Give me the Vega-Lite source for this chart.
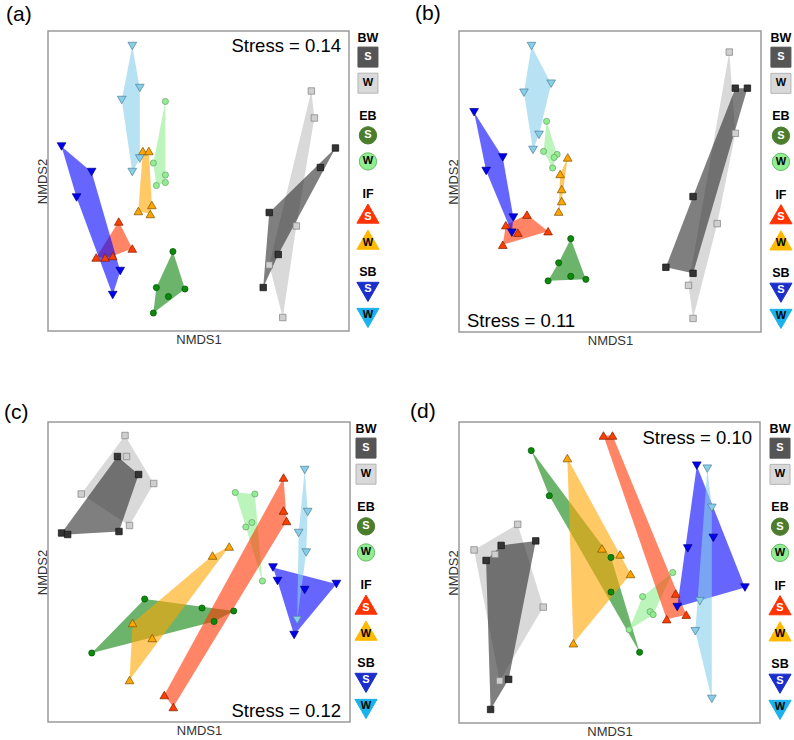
{
  "$schema": "https://vega.github.io/schema/vega-lite/v6.json",
  "padding": {"left": 3, "top": 2, "right": 0, "bottom": 0},
  "autosize": {"type": "pad"},
  "bounds": "flush",
  "columns": 2,
  "spacing": {"row": 90, "column": 109},
  "config": {
    "font": "Liberation Sans",
    "view": {"stroke": "#9a9a9a", "strokeWidth": 1.5},
    "legend": {"disable": true},
    "axis": {"labels": false, "ticks": false, "domain": false, "grid": false, "titleFont": "Liberation Sans", "titleFontSize": 13, "titleFontWeight": "normal", "titleColor": "#333333"},
    "title": {"font": "Liberation Sans", "fontSize": 21, "fontWeight": "normal", "anchor": "start", "frame": "group", "color": "#000000"}
  },
  "datasets": {
    "leg": [
      {"site": "BW", "k": "h", "id": "BW-h"}, {"site": "BW", "k": "S", "id": "BW-S"}, {"site": "BW", "k": "W", "id": "BW-W"},
      {"site": "EB", "k": "h", "id": "EB-h"}, {"site": "EB", "k": "S", "id": "EB-S"}, {"site": "EB", "k": "W", "id": "EB-W"},
      {"site": "IF", "k": "h", "id": "IF-h"}, {"site": "IF", "k": "S", "id": "IF-S"}, {"site": "IF", "k": "W", "id": "IF-W"},
      {"site": "SB", "k": "h", "id": "SB-h"}, {"site": "SB", "k": "S", "id": "SB-S"}, {"site": "SB", "k": "W", "id": "SB-W"}
    ],
    "pts": [
      {"p": "a", "site": "BW", "grp": "BW-W", "x": 0.75, "y": 0.60, "h": 1},
      {"p": "a", "site": "BW", "grp": "BW-W", "x": 0.77, "y": 0.42, "h": 2},
      {"p": "a", "site": "BW", "grp": "BW-W", "x": 0.65, "y": -0.30, "h": 3},
      {"p": "a", "site": "BW", "grp": "BW-W", "x": 0.47, "y": -0.56, "h": 5},
      {"p": "a", "site": "BW", "grp": "BW-W", "x": 0.56, "y": -0.91, "h": 4},
      {"p": "a", "site": "BW", "grp": "BW-S", "x": 0.91, "y": 0.22, "h": 1},
      {"p": "a", "site": "BW", "grp": "BW-S", "x": 0.81, "y": 0.09},
      {"p": "a", "site": "BW", "grp": "BW-S", "x": 0.47, "y": -0.21, "h": 4},
      {"p": "a", "site": "BW", "grp": "BW-S", "x": 0.53, "y": -0.49, "h": 2},
      {"p": "a", "site": "BW", "grp": "BW-S", "x": 0.43, "y": -0.71, "h": 3},
      {"p": "a", "site": "EB", "grp": "EB-S", "x": -0.17, "y": -0.47, "h": 1},
      {"p": "a", "site": "EB", "grp": "EB-S", "x": -0.28, "y": -0.71, "h": 4},
      {"p": "a", "site": "EB", "grp": "EB-S", "x": -0.09, "y": -0.72, "h": 2},
      {"p": "a", "site": "EB", "grp": "EB-S", "x": -0.20, "y": -0.77},
      {"p": "a", "site": "EB", "grp": "EB-S", "x": -0.30, "y": -0.88, "h": 3},
      {"p": "a", "site": "EB", "grp": "EB-W", "x": -0.22, "y": 0.53, "h": 1},
      {"p": "a", "site": "EB", "grp": "EB-W", "x": -0.30, "y": 0.12, "h": 5},
      {"p": "a", "site": "EB", "grp": "EB-W", "x": -0.22, "y": 0.04, "h": 2},
      {"p": "a", "site": "EB", "grp": "EB-W", "x": -0.22, "y": -0.01, "h": 3},
      {"p": "a", "site": "EB", "grp": "EB-W", "x": -0.28, "y": -0.03, "h": 4},
      {"p": "a", "site": "IF", "grp": "IF-S", "x": -0.53, "y": -0.27, "h": 1},
      {"p": "a", "site": "IF", "grp": "IF-S", "x": -0.44, "y": -0.45, "h": 2},
      {"p": "a", "site": "IF", "grp": "IF-S", "x": -0.68, "y": -0.51, "h": 5},
      {"p": "a", "site": "IF", "grp": "IF-S", "x": -0.62, "y": -0.51, "h": 4},
      {"p": "a", "site": "IF", "grp": "IF-S", "x": -0.57, "y": -0.50, "h": 3},
      {"p": "a", "site": "IF", "grp": "IF-W", "x": -0.37, "y": 0.20, "h": 1},
      {"p": "a", "site": "IF", "grp": "IF-W", "x": -0.33, "y": 0.20, "h": 2},
      {"p": "a", "site": "IF", "grp": "IF-W", "x": -0.40, "y": -0.20, "h": 5},
      {"p": "a", "site": "IF", "grp": "IF-W", "x": -0.31, "y": -0.16, "h": 3},
      {"p": "a", "site": "IF", "grp": "IF-W", "x": -0.32, "y": -0.22, "h": 4},
      {"p": "a", "site": "SB", "grp": "SB-S", "x": -0.91, "y": 0.23, "h": 1},
      {"p": "a", "site": "SB", "grp": "SB-S", "x": -0.71, "y": 0.06, "h": 2},
      {"p": "a", "site": "SB", "grp": "SB-S", "x": -0.81, "y": -0.11, "h": 5},
      {"p": "a", "site": "SB", "grp": "SB-S", "x": -0.52, "y": -0.60, "h": 3},
      {"p": "a", "site": "SB", "grp": "SB-S", "x": -0.57, "y": -0.76, "h": 4},
      {"p": "a", "site": "SB", "grp": "SB-W", "x": -0.44, "y": 0.90, "h": 1},
      {"p": "a", "site": "SB", "grp": "SB-W", "x": -0.39, "y": 0.62, "h": 2},
      {"p": "a", "site": "SB", "grp": "SB-W", "x": -0.51, "y": 0.54, "h": 5},
      {"p": "a", "site": "SB", "grp": "SB-W", "x": -0.39, "y": 0.15, "h": 3},
      {"p": "a", "site": "SB", "grp": "SB-W", "x": -0.44, "y": 0.06, "h": 4},

      {"p": "b", "site": "BW", "grp": "BW-W", "x": 0.79, "y": 0.86, "h": 1},
      {"p": "b", "site": "BW", "grp": "BW-W", "x": 0.83, "y": 0.32, "h": 2},
      {"p": "b", "site": "BW", "grp": "BW-W", "x": 0.71, "y": -0.28, "h": 3},
      {"p": "b", "site": "BW", "grp": "BW-W", "x": 0.52, "y": -0.69, "h": 5},
      {"p": "b", "site": "BW", "grp": "BW-W", "x": 0.55, "y": -0.91, "h": 4},
      {"p": "b", "site": "BW", "grp": "BW-S", "x": 0.83, "y": 0.62, "h": 1},
      {"p": "b", "site": "BW", "grp": "BW-S", "x": 0.91, "y": 0.62, "h": 2},
      {"p": "b", "site": "BW", "grp": "BW-S", "x": 0.55, "y": -0.10, "h": 5},
      {"p": "b", "site": "BW", "grp": "BW-S", "x": 0.37, "y": -0.57, "h": 4},
      {"p": "b", "site": "BW", "grp": "BW-S", "x": 0.55, "y": -0.61, "h": 3},
      {"p": "b", "site": "EB", "grp": "EB-S", "x": -0.26, "y": -0.38, "h": 1},
      {"p": "b", "site": "EB", "grp": "EB-S", "x": -0.34, "y": -0.54, "h": 4},
      {"p": "b", "site": "EB", "grp": "EB-S", "x": -0.26, "y": -0.63},
      {"p": "b", "site": "EB", "grp": "EB-S", "x": -0.16, "y": -0.65, "h": 2},
      {"p": "b", "site": "EB", "grp": "EB-S", "x": -0.41, "y": -0.66, "h": 3},
      {"p": "b", "site": "EB", "grp": "EB-W", "x": -0.42, "y": 0.40, "h": 1},
      {"p": "b", "site": "EB", "grp": "EB-W", "x": -0.44, "y": 0.20, "h": 4},
      {"p": "b", "site": "EB", "grp": "EB-W", "x": -0.35, "y": 0.18, "h": 2},
      {"p": "b", "site": "EB", "grp": "EB-W", "x": -0.37, "y": 0.16},
      {"p": "b", "site": "EB", "grp": "EB-W", "x": -0.38, "y": 0.09, "h": 3},
      {"p": "b", "site": "IF", "grp": "IF-S", "x": -0.55, "y": -0.22, "h": 1},
      {"p": "b", "site": "IF", "grp": "IF-S", "x": -0.69, "y": -0.29, "h": 4},
      {"p": "b", "site": "IF", "grp": "IF-S", "x": -0.61, "y": -0.34},
      {"p": "b", "site": "IF", "grp": "IF-S", "x": -0.41, "y": -0.33, "h": 2},
      {"p": "b", "site": "IF", "grp": "IF-S", "x": -0.71, "y": -0.42, "h": 3},
      {"p": "b", "site": "IF", "grp": "IF-W", "x": -0.28, "y": 0.16, "h": 1},
      {"p": "b", "site": "IF", "grp": "IF-W", "x": -0.33, "y": 0.05, "h": 4},
      {"p": "b", "site": "IF", "grp": "IF-W", "x": -0.32, "y": -0.05},
      {"p": "b", "site": "IF", "grp": "IF-W", "x": -0.32, "y": -0.13, "h": 2},
      {"p": "b", "site": "IF", "grp": "IF-W", "x": -0.34, "y": -0.20, "h": 3},
      {"p": "b", "site": "SB", "grp": "SB-S", "x": -0.90, "y": 0.46, "h": 1},
      {"p": "b", "site": "SB", "grp": "SB-S", "x": -0.71, "y": 0.16, "h": 2},
      {"p": "b", "site": "SB", "grp": "SB-S", "x": -0.82, "y": 0.07, "h": 5},
      {"p": "b", "site": "SB", "grp": "SB-S", "x": -0.64, "y": -0.24, "h": 3},
      {"p": "b", "site": "SB", "grp": "SB-S", "x": -0.65, "y": -0.34, "h": 4},
      {"p": "b", "site": "SB", "grp": "SB-W", "x": -0.52, "y": 0.90, "h": 1},
      {"p": "b", "site": "SB", "grp": "SB-W", "x": -0.39, "y": 0.65, "h": 2},
      {"p": "b", "site": "SB", "grp": "SB-W", "x": -0.57, "y": 0.59, "h": 5},
      {"p": "b", "site": "SB", "grp": "SB-W", "x": -0.47, "y": 0.31, "h": 3},
      {"p": "b", "site": "SB", "grp": "SB-W", "x": -0.51, "y": 0.21, "h": 4},

      {"p": "c", "site": "BW", "grp": "BW-W", "x": -0.49, "y": 0.91, "h": 1},
      {"p": "c", "site": "BW", "grp": "BW-W", "x": -0.48, "y": 0.77},
      {"p": "c", "site": "BW", "grp": "BW-W", "x": -0.30, "y": 0.59, "h": 2},
      {"p": "c", "site": "BW", "grp": "BW-W", "x": -0.78, "y": 0.52, "h": 4},
      {"p": "c", "site": "BW", "grp": "BW-W", "x": -0.46, "y": 0.31, "h": 3},
      {"p": "c", "site": "BW", "grp": "BW-S", "x": -0.54, "y": 0.77, "h": 1},
      {"p": "c", "site": "BW", "grp": "BW-S", "x": -0.40, "y": 0.65, "h": 2},
      {"p": "c", "site": "BW", "grp": "BW-S", "x": -0.91, "y": 0.26, "h": 5},
      {"p": "c", "site": "BW", "grp": "BW-S", "x": -0.87, "y": 0.25, "h": 4},
      {"p": "c", "site": "BW", "grp": "BW-S", "x": -0.53, "y": 0.27, "h": 3},
      {"p": "c", "site": "EB", "grp": "EB-S", "x": -0.36, "y": -0.18, "h": 1},
      {"p": "c", "site": "EB", "grp": "EB-S", "x": 0.02, "y": -0.24},
      {"p": "c", "site": "EB", "grp": "EB-S", "x": 0.23, "y": -0.26, "h": 2},
      {"p": "c", "site": "EB", "grp": "EB-S", "x": 0.10, "y": -0.33, "h": 3},
      {"p": "c", "site": "EB", "grp": "EB-S", "x": -0.71, "y": -0.54, "h": 4},
      {"p": "c", "site": "EB", "grp": "EB-W", "x": 0.24, "y": 0.53, "h": 1},
      {"p": "c", "site": "EB", "grp": "EB-W", "x": 0.37, "y": 0.52, "h": 2},
      {"p": "c", "site": "EB", "grp": "EB-W", "x": 0.31, "y": 0.30, "h": 4},
      {"p": "c", "site": "EB", "grp": "EB-W", "x": 0.35, "y": 0.33},
      {"p": "c", "site": "EB", "grp": "EB-W", "x": 0.42, "y": -0.06, "h": 3},
      {"p": "c", "site": "IF", "grp": "IF-S", "x": 0.56, "y": 0.63, "h": 1},
      {"p": "c", "site": "IF", "grp": "IF-S", "x": 0.56, "y": 0.41},
      {"p": "c", "site": "IF", "grp": "IF-S", "x": 0.58, "y": 0.34, "h": 2},
      {"p": "c", "site": "IF", "grp": "IF-S", "x": -0.23, "y": -0.82, "h": 4},
      {"p": "c", "site": "IF", "grp": "IF-S", "x": -0.17, "y": -0.90, "h": 3},
      {"p": "c", "site": "IF", "grp": "IF-W", "x": 0.20, "y": 0.17, "h": 1},
      {"p": "c", "site": "IF", "grp": "IF-W", "x": 0.09, "y": 0.11, "h": 4},
      {"p": "c", "site": "IF", "grp": "IF-W", "x": -0.44, "y": -0.34, "h": 3},
      {"p": "c", "site": "IF", "grp": "IF-W", "x": -0.31, "y": -0.44},
      {"p": "c", "site": "IF", "grp": "IF-W", "x": -0.46, "y": -0.72, "h": 2},
      {"p": "c", "site": "SB", "grp": "SB-S", "x": 0.49, "y": 0.03, "h": 1},
      {"p": "c", "site": "SB", "grp": "SB-S", "x": 0.52, "y": -0.06, "h": 4},
      {"p": "c", "site": "SB", "grp": "SB-S", "x": 0.70, "y": -0.12},
      {"p": "c", "site": "SB", "grp": "SB-S", "x": 0.91, "y": -0.08, "h": 2},
      {"p": "c", "site": "SB", "grp": "SB-S", "x": 0.63, "y": -0.42, "h": 3},
      {"p": "c", "site": "SB", "grp": "SB-W", "x": 0.70, "y": 0.68, "h": 1},
      {"p": "c", "site": "SB", "grp": "SB-W", "x": 0.72, "y": 0.40, "h": 2},
      {"p": "c", "site": "SB", "grp": "SB-W", "x": 0.66, "y": 0.26, "h": 5},
      {"p": "c", "site": "SB", "grp": "SB-W", "x": 0.71, "y": 0.13, "h": 3},
      {"p": "c", "site": "SB", "grp": "SB-W", "x": 0.65, "y": -0.32, "h": 4},

      {"p": "d", "site": "BW", "grp": "BW-W", "x": -0.61, "y": 0.32, "h": 1},
      {"p": "d", "site": "BW", "grp": "BW-W", "x": -0.90, "y": 0.15, "h": 4},
      {"p": "d", "site": "BW", "grp": "BW-W", "x": -0.76, "y": 0.12},
      {"p": "d", "site": "BW", "grp": "BW-W", "x": -0.44, "y": -0.23, "h": 2},
      {"p": "d", "site": "BW", "grp": "BW-W", "x": -0.73, "y": -0.72, "h": 3},
      {"p": "d", "site": "BW", "grp": "BW-S", "x": -0.49, "y": 0.21, "h": 1},
      {"p": "d", "site": "BW", "grp": "BW-S", "x": -0.72, "y": 0.18, "h": 5},
      {"p": "d", "site": "BW", "grp": "BW-S", "x": -0.82, "y": 0.08, "h": 4},
      {"p": "d", "site": "BW", "grp": "BW-S", "x": -0.67, "y": -0.71, "h": 2},
      {"p": "d", "site": "BW", "grp": "BW-S", "x": -0.79, "y": -0.91, "h": 3},
      {"p": "d", "site": "EB", "grp": "EB-S", "x": -0.52, "y": 0.81, "h": 1},
      {"p": "d", "site": "EB", "grp": "EB-S", "x": -0.40, "y": 0.51, "h": 4},
      {"p": "d", "site": "EB", "grp": "EB-S", "x": 0.01, "y": 0.10, "h": 2},
      {"p": "d", "site": "EB", "grp": "EB-S", "x": 0.01, "y": -0.13},
      {"p": "d", "site": "EB", "grp": "EB-S", "x": 0.20, "y": -0.53, "h": 3},
      {"p": "d", "site": "EB", "grp": "EB-W", "x": 0.42, "y": 0.00, "h": 1},
      {"p": "d", "site": "EB", "grp": "EB-W", "x": 0.22, "y": -0.16, "h": 4},
      {"p": "d", "site": "EB", "grp": "EB-W", "x": 0.27, "y": -0.26},
      {"p": "d", "site": "EB", "grp": "EB-W", "x": 0.29, "y": -0.28, "h": 2},
      {"p": "d", "site": "EB", "grp": "EB-W", "x": 0.13, "y": -0.38, "h": 3},
      {"p": "d", "site": "IF", "grp": "IF-S", "x": -0.04, "y": 0.91, "h": 1},
      {"p": "d", "site": "IF", "grp": "IF-S", "x": 0.02, "y": 0.91, "h": 2},
      {"p": "d", "site": "IF", "grp": "IF-S", "x": 0.44, "y": -0.14},
      {"p": "d", "site": "IF", "grp": "IF-S", "x": 0.38, "y": -0.31, "h": 4},
      {"p": "d", "site": "IF", "grp": "IF-S", "x": 0.51, "y": -0.28, "h": 3},
      {"p": "d", "site": "IF", "grp": "IF-W", "x": -0.28, "y": 0.76, "h": 1},
      {"p": "d", "site": "IF", "grp": "IF-W", "x": -0.05, "y": 0.16},
      {"p": "d", "site": "IF", "grp": "IF-W", "x": 0.07, "y": 0.12},
      {"p": "d", "site": "IF", "grp": "IF-W", "x": 0.14, "y": -0.01, "h": 2},
      {"p": "d", "site": "IF", "grp": "IF-W", "x": -0.24, "y": -0.47, "h": 3},
      {"p": "d", "site": "SB", "grp": "SB-S", "x": 0.58, "y": 0.71, "h": 1},
      {"p": "d", "site": "SB", "grp": "SB-S", "x": 0.69, "y": 0.23},
      {"p": "d", "site": "SB", "grp": "SB-S", "x": 0.52, "y": 0.16},
      {"p": "d", "site": "SB", "grp": "SB-S", "x": 0.90, "y": -0.10, "h": 2},
      {"p": "d", "site": "SB", "grp": "SB-S", "x": 0.45, "y": -0.23, "h": 3},
      {"p": "d", "site": "SB", "grp": "SB-W", "x": 0.65, "y": 0.69, "h": 1},
      {"p": "d", "site": "SB", "grp": "SB-W", "x": 0.68, "y": 0.43, "h": 2},
      {"p": "d", "site": "SB", "grp": "SB-W", "x": 0.60, "y": -0.19},
      {"p": "d", "site": "SB", "grp": "SB-W", "x": 0.57, "y": -0.39, "h": 4},
      {"p": "d", "site": "SB", "grp": "SB-W", "x": 0.68, "y": -0.84, "h": 3}
    ]
  },
  "concat": [
    {
      "width": 301, "height": 300,
      "title": {"text": "(a)", "dx": -42, "offset": 6},
      "layer": [
        {
          "layer": [
            {"data": {"name": "pts"}, "transform": [{"filter": "datum.p == 'a' && isValid(datum.h)"}],
             "mark": {"type": "line", "interpolate": "linear-closed", "strokeWidth": 0, "fillOpacity": 0.6},
             "encoding": {
               "x": {"field": "x", "type": "quantitative", "scale": {"domain": [-1, 1], "nice": false, "zero": false}, "axis": {"title": "NMDS1", "titlePadding": 2}},
               "y": {"field": "y", "type": "quantitative", "scale": {"domain": [-1, 1], "nice": false, "zero": false}, "axis": {"title": "NMDS2", "titlePadding": -1}},
               "fill": {"field": "grp", "type": "nominal", "scale": {"domain": ["BW-W", "BW-S", "EB-S", "EB-W", "IF-S", "IF-W", "SB-S", "SB-W"], "range": ["#c0c0c0", "#2a2a2a", "#0a800a", "#90ee90", "#ff3300", "#ffa500", "#0000ff", "#87ceeb"]}},
               "detail": {"field": "grp"},
               "order": {"field": "h", "type": "quantitative"}
             }},
            {"data": {"name": "pts"}, "transform": [{"filter": "datum.p == 'a'"}],
             "mark": {"type": "point", "filled": true, "opacity": 1, "strokeWidth": 0.7},
             "encoding": {
               "x": {"field": "x", "type": "quantitative", "scale": {"domain": [-1, 1], "nice": false, "zero": false}, "axis": {"title": "NMDS1", "titlePadding": 2}},
               "y": {"field": "y", "type": "quantitative", "scale": {"domain": [-1, 1], "nice": false, "zero": false}, "axis": {"title": "NMDS2", "titlePadding": -1}},
               "shape": {"field": "site", "type": "nominal", "scale": {"domain": ["BW", "EB", "IF", "SB"], "range": ["square", "circle", "triangle-up", "triangle-down"]}},
               "size": {"field": "site", "type": "nominal", "scale": {"type": "ordinal", "domain": ["BW", "EB", "IF", "SB"], "range": [42, 38, 75, 75]}},
               "fill": {"field": "grp", "type": "nominal", "scale": {"domain": ["BW-W", "BW-S", "EB-S", "EB-W", "IF-S", "IF-W", "SB-S", "SB-W"], "range": ["#cfcfcf", "#333333", "#0b8a0b", "#90ee90", "#ff3d00", "#ffa500", "#0000f0", "#87ceeb"]}},
               "stroke": {"field": "grp", "type": "nominal", "scale": {"domain": ["BW-W", "BW-S", "EB-S", "EB-W", "IF-S", "IF-W", "SB-S", "SB-W"], "range": ["#808080", "#111111", "#055005", "#6b9f6b", "#7a2000", "#7a5000", "#000080", "#4f7f94"]}}
             }},
            {"data": {"values": [{"label": "Stress = 0.14"}]},
             "mark": {"type": "text", "align": "right", "baseline": "top", "dx": -8, "dy": 6, "fontSize": 18.5, "color": "#000000"},
             "encoding": {
               "x": {"datum": 1, "type": "quantitative", "axis": {"title": "NMDS1", "titlePadding": 2}},
               "y": {"datum": 1, "type": "quantitative", "axis": {"title": "NMDS2", "titlePadding": -1}},
               "text": {"field": "label"}
             }}
          ],
          "resolve": {"scale": {"fill": "independent"}}
        },
        {
          "data": {"name": "leg"},
          "encoding": {
            "x": {"datum": 1.126, "type": "quantitative", "axis": {"title": "NMDS1", "titlePadding": 2}},
            "y": {"field": "id", "type": "nominal", "scale": {"type": "point", "padding": 1.44, "domain": ["BW-h","s1","s2","BW-S","s3","s4","s5","BW-W","s6","s7","s8","s9","EB-h","s10","s11","EB-S","s12","s13","s14","EB-W","s15","s16","s17","s18","IF-h","s19","s20","IF-S","s21","s22","s23","IF-W","s24","s25","s26","s27","SB-h","s28","s29","SB-S","s30","s31","s32","SB-W","s33"]}, "axis": null}
          },
          "layer": [
            {"transform": [{"filter": "datum.k == 'h'"}], "mark": {"type": "text", "fontWeight": "bold", "fontSize": 12.5, "baseline": "middle", "color": "#000000"}, "encoding": {"text": {"field": "site"}}},
            {"transform": [{"filter": "datum.k != 'h' && datum.site == 'BW'"}], "mark": {"type": "point", "shape": "square", "size": 400, "filled": true, "opacity": 1, "strokeWidth": 1},
             "encoding": {"fill": {"field": "id", "type": "nominal", "scale": {"domain": ["BW-S", "BW-W", "EB-S", "EB-W", "IF-S", "IF-W", "SB-S", "SB-W"], "range": ["#555555", "#d9d9d9", "#4b7d2c", "#90ee90", "#ff3300", "#ffb900", "#1a2ecc", "#1ab2ec"]}}, "stroke": {"field": "id", "type": "nominal", "scale": {"domain": ["BW-S", "BW-W", "EB-S", "EB-W", "IF-S", "IF-W", "SB-S", "SB-W"], "range": ["#555555", "#b5b5b5", "#4b7d2c", "#66bb66", "#ff3300", "#ffb900", "#1a2ecc", "#1ab2ec"]}}}},
            {"transform": [{"filter": "datum.k != 'h' && datum.site == 'EB'"}], "mark": {"type": "point", "shape": "circle", "size": 300, "filled": true, "opacity": 1, "strokeWidth": 1},
             "encoding": {"fill": {"field": "id", "type": "nominal"}, "stroke": {"field": "id", "type": "nominal"}}},
            {"transform": [{"filter": "datum.k != 'h' && datum.site == 'IF'"}], "mark": {"type": "point", "shape": "triangle-up", "size": 490, "filled": true, "opacity": 1, "strokeWidth": 1},
             "encoding": {"fill": {"field": "id", "type": "nominal"}, "stroke": {"field": "id", "type": "nominal"}}},
            {"transform": [{"filter": "datum.k != 'h' && datum.site == 'SB'"}], "mark": {"type": "point", "shape": "triangle-down", "size": 490, "filled": true, "opacity": 1, "strokeWidth": 1},
             "encoding": {"fill": {"field": "id", "type": "nominal"}, "stroke": {"field": "id", "type": "nominal"}}},
            {"transform": [{"filter": "datum.k != 'h' && (datum.site == 'BW' || datum.site == 'EB')"}], "mark": {"type": "text", "fontWeight": "bold", "fontSize": 11, "baseline": "middle"},
             "encoding": {"text": {"field": "k"}, "color": {"field": "k", "type": "nominal", "scale": {"domain": ["S", "W"], "range": ["#ffffff", "#000000"]}}}},
            {"transform": [{"filter": "datum.k != 'h' && datum.site == 'IF'"}], "mark": {"type": "text", "fontWeight": "bold", "fontSize": 11, "baseline": "middle", "dy": 3},
             "encoding": {"text": {"field": "k"}, "color": {"field": "k", "type": "nominal"}}},
            {"transform": [{"filter": "datum.k != 'h' && datum.site == 'SB'"}], "mark": {"type": "text", "fontWeight": "bold", "fontSize": 11, "baseline": "middle", "dy": -3},
             "encoding": {"text": {"field": "k"}, "color": {"field": "k", "type": "nominal"}}}
          ]
        }
      ],
      "resolve": {"scale": {"y": "independent", "fill": "independent", "stroke": "independent"}}
    },
    {
      "width": 302, "height": 301,
      "title": {"text": "(b)", "dx": -44, "offset": 7},
      "layer": [
        {
          "layer": [
            {"data": {"name": "pts"}, "transform": [{"filter": "datum.p == 'b' && isValid(datum.h)"}],
             "mark": {"type": "line", "interpolate": "linear-closed", "strokeWidth": 0, "fillOpacity": 0.6},
             "encoding": {
               "x": {"field": "x", "type": "quantitative", "scale": {"domain": [-1, 1], "nice": false, "zero": false}, "axis": {"title": "NMDS1", "titlePadding": 2}},
               "y": {"field": "y", "type": "quantitative", "scale": {"domain": [-1, 1], "nice": false, "zero": false}, "axis": {"title": "NMDS2", "titlePadding": -1}},
               "fill": {"field": "grp", "type": "nominal", "scale": {"domain": ["BW-W", "BW-S", "EB-S", "EB-W", "IF-S", "IF-W", "SB-S", "SB-W"], "range": ["#c0c0c0", "#2a2a2a", "#0a800a", "#90ee90", "#ff3300", "#ffa500", "#0000ff", "#87ceeb"]}},
               "detail": {"field": "grp"},
               "order": {"field": "h", "type": "quantitative"}
             }},
            {"data": {"name": "pts"}, "transform": [{"filter": "datum.p == 'b'"}],
             "mark": {"type": "point", "filled": true, "opacity": 1, "strokeWidth": 0.7},
             "encoding": {
               "x": {"field": "x", "type": "quantitative", "scale": {"domain": [-1, 1], "nice": false, "zero": false}, "axis": {"title": "NMDS1", "titlePadding": 2}},
               "y": {"field": "y", "type": "quantitative", "scale": {"domain": [-1, 1], "nice": false, "zero": false}, "axis": {"title": "NMDS2", "titlePadding": -1}},
               "shape": {"field": "site", "type": "nominal", "scale": {"domain": ["BW", "EB", "IF", "SB"], "range": ["square", "circle", "triangle-up", "triangle-down"]}},
               "size": {"field": "site", "type": "nominal", "scale": {"type": "ordinal", "domain": ["BW", "EB", "IF", "SB"], "range": [42, 38, 75, 75]}},
               "fill": {"field": "grp", "type": "nominal", "scale": {"domain": ["BW-W", "BW-S", "EB-S", "EB-W", "IF-S", "IF-W", "SB-S", "SB-W"], "range": ["#cfcfcf", "#333333", "#0b8a0b", "#90ee90", "#ff3d00", "#ffa500", "#0000f0", "#87ceeb"]}},
               "stroke": {"field": "grp", "type": "nominal", "scale": {"domain": ["BW-W", "BW-S", "EB-S", "EB-W", "IF-S", "IF-W", "SB-S", "SB-W"], "range": ["#808080", "#111111", "#055005", "#6b9f6b", "#7a2000", "#7a5000", "#000080", "#4f7f94"]}}
             }},
            {"data": {"values": [{"label": "Stress = 0.11"}]},
             "mark": {"type": "text", "align": "left", "baseline": "alphabetic", "dx": 8, "dy": -5, "fontSize": 18.5, "color": "#000000"},
             "encoding": {
               "x": {"datum": -1, "type": "quantitative", "axis": {"title": "NMDS1", "titlePadding": 2}},
               "y": {"datum": -1, "type": "quantitative", "axis": {"title": "NMDS2", "titlePadding": -1}},
               "text": {"field": "label"}
             }}
          ],
          "resolve": {"scale": {"fill": "independent"}}
        },
        {
          "data": {"name": "leg"},
          "encoding": {
            "x": {"datum": 1.132, "type": "quantitative", "axis": {"title": "NMDS1", "titlePadding": 2}},
            "y": {"field": "id", "type": "nominal", "scale": {"type": "point", "padding": 1.44, "domain": ["BW-h","s1","s2","BW-S","s3","s4","s5","BW-W","s6","s7","s8","s9","EB-h","s10","s11","EB-S","s12","s13","s14","EB-W","s15","s16","s17","s18","IF-h","s19","s20","IF-S","s21","s22","s23","IF-W","s24","s25","s26","s27","SB-h","s28","s29","SB-S","s30","s31","s32","SB-W","s33"]}, "axis": null}
          },
          "layer": [
            {"transform": [{"filter": "datum.k == 'h'"}], "mark": {"type": "text", "fontWeight": "bold", "fontSize": 12.5, "baseline": "middle", "color": "#000000"}, "encoding": {"text": {"field": "site"}}},
            {"transform": [{"filter": "datum.k != 'h' && datum.site == 'BW'"}], "mark": {"type": "point", "shape": "square", "size": 400, "filled": true, "opacity": 1, "strokeWidth": 1},
             "encoding": {"fill": {"field": "id", "type": "nominal", "scale": {"domain": ["BW-S", "BW-W", "EB-S", "EB-W", "IF-S", "IF-W", "SB-S", "SB-W"], "range": ["#555555", "#d9d9d9", "#4b7d2c", "#90ee90", "#ff3300", "#ffb900", "#1a2ecc", "#1ab2ec"]}}, "stroke": {"field": "id", "type": "nominal", "scale": {"domain": ["BW-S", "BW-W", "EB-S", "EB-W", "IF-S", "IF-W", "SB-S", "SB-W"], "range": ["#555555", "#b5b5b5", "#4b7d2c", "#66bb66", "#ff3300", "#ffb900", "#1a2ecc", "#1ab2ec"]}}}},
            {"transform": [{"filter": "datum.k != 'h' && datum.site == 'EB'"}], "mark": {"type": "point", "shape": "circle", "size": 300, "filled": true, "opacity": 1, "strokeWidth": 1},
             "encoding": {"fill": {"field": "id", "type": "nominal"}, "stroke": {"field": "id", "type": "nominal"}}},
            {"transform": [{"filter": "datum.k != 'h' && datum.site == 'IF'"}], "mark": {"type": "point", "shape": "triangle-up", "size": 490, "filled": true, "opacity": 1, "strokeWidth": 1},
             "encoding": {"fill": {"field": "id", "type": "nominal"}, "stroke": {"field": "id", "type": "nominal"}}},
            {"transform": [{"filter": "datum.k != 'h' && datum.site == 'SB'"}], "mark": {"type": "point", "shape": "triangle-down", "size": 490, "filled": true, "opacity": 1, "strokeWidth": 1},
             "encoding": {"fill": {"field": "id", "type": "nominal"}, "stroke": {"field": "id", "type": "nominal"}}},
            {"transform": [{"filter": "datum.k != 'h' && (datum.site == 'BW' || datum.site == 'EB')"}], "mark": {"type": "text", "fontWeight": "bold", "fontSize": 11, "baseline": "middle"},
             "encoding": {"text": {"field": "k"}, "color": {"field": "k", "type": "nominal", "scale": {"domain": ["S", "W"], "range": ["#ffffff", "#000000"]}}}},
            {"transform": [{"filter": "datum.k != 'h' && datum.site == 'IF'"}], "mark": {"type": "text", "fontWeight": "bold", "fontSize": 11, "baseline": "middle", "dy": 3},
             "encoding": {"text": {"field": "k"}, "color": {"field": "k", "type": "nominal"}}},
            {"transform": [{"filter": "datum.k != 'h' && datum.site == 'SB'"}], "mark": {"type": "text", "fontWeight": "bold", "fontSize": 11, "baseline": "middle", "dy": -3},
             "encoding": {"text": {"field": "k"}, "color": {"field": "k", "type": "nominal"}}}
          ]
        }
      ],
      "resolve": {"scale": {"y": "independent", "fill": "independent", "stroke": "independent"}}
    },
    {
      "width": 302, "height": 300,
      "title": {"text": "(c)", "dx": -44, "offset": -1},
      "layer": [
        {
          "layer": [
            {"data": {"name": "pts"}, "transform": [{"filter": "datum.p == 'c' && isValid(datum.h)"}],
             "mark": {"type": "line", "interpolate": "linear-closed", "strokeWidth": 0, "fillOpacity": 0.6},
             "encoding": {
               "x": {"field": "x", "type": "quantitative", "scale": {"domain": [-1, 1], "nice": false, "zero": false}, "axis": {"title": "NMDS1", "titlePadding": 2}},
               "y": {"field": "y", "type": "quantitative", "scale": {"domain": [-1, 1], "nice": false, "zero": false}, "axis": {"title": "NMDS2", "titlePadding": -1}},
               "fill": {"field": "grp", "type": "nominal", "scale": {"domain": ["BW-W", "BW-S", "EB-S", "EB-W", "IF-S", "IF-W", "SB-S", "SB-W"], "range": ["#c0c0c0", "#2a2a2a", "#0a800a", "#90ee90", "#ff3300", "#ffa500", "#0000ff", "#87ceeb"]}},
               "detail": {"field": "grp"},
               "order": {"field": "h", "type": "quantitative"}
             }},
            {"data": {"name": "pts"}, "transform": [{"filter": "datum.p == 'c'"}],
             "mark": {"type": "point", "filled": true, "opacity": 1, "strokeWidth": 0.7},
             "encoding": {
               "x": {"field": "x", "type": "quantitative", "scale": {"domain": [-1, 1], "nice": false, "zero": false}, "axis": {"title": "NMDS1", "titlePadding": 2}},
               "y": {"field": "y", "type": "quantitative", "scale": {"domain": [-1, 1], "nice": false, "zero": false}, "axis": {"title": "NMDS2", "titlePadding": -1}},
               "shape": {"field": "site", "type": "nominal", "scale": {"domain": ["BW", "EB", "IF", "SB"], "range": ["square", "circle", "triangle-up", "triangle-down"]}},
               "size": {"field": "site", "type": "nominal", "scale": {"type": "ordinal", "domain": ["BW", "EB", "IF", "SB"], "range": [42, 38, 75, 75]}},
               "fill": {"field": "grp", "type": "nominal", "scale": {"domain": ["BW-W", "BW-S", "EB-S", "EB-W", "IF-S", "IF-W", "SB-S", "SB-W"], "range": ["#cfcfcf", "#333333", "#0b8a0b", "#90ee90", "#ff3d00", "#ffa500", "#0000f0", "#87ceeb"]}},
               "stroke": {"field": "grp", "type": "nominal", "scale": {"domain": ["BW-W", "BW-S", "EB-S", "EB-W", "IF-S", "IF-W", "SB-S", "SB-W"], "range": ["#808080", "#111111", "#055005", "#6b9f6b", "#7a2000", "#7a5000", "#000080", "#4f7f94"]}}
             }},
            {"data": {"values": [{"label": "Stress = 0.12"}]},
             "mark": {"type": "text", "align": "right", "baseline": "alphabetic", "dx": -9, "dy": -5, "fontSize": 18.5, "color": "#000000"},
             "encoding": {
               "x": {"datum": 1, "type": "quantitative", "axis": {"title": "NMDS1", "titlePadding": 2}},
               "y": {"datum": -1, "type": "quantitative", "axis": {"title": "NMDS2", "titlePadding": -1}},
               "text": {"field": "label"}
             }}
          ],
          "resolve": {"scale": {"fill": "independent"}}
        },
        {
          "data": {"name": "leg"},
          "encoding": {
            "x": {"datum": 1.106, "type": "quantitative", "axis": {"title": "NMDS1", "titlePadding": 2}},
            "y": {"field": "id", "type": "nominal", "scale": {"type": "point", "padding": 1.44, "domain": ["BW-h","s1","s2","BW-S","s3","s4","s5","BW-W","s6","s7","s8","s9","EB-h","s10","s11","EB-S","s12","s13","s14","EB-W","s15","s16","s17","s18","IF-h","s19","s20","IF-S","s21","s22","s23","IF-W","s24","s25","s26","s27","SB-h","s28","s29","SB-S","s30","s31","s32","SB-W","s33"]}, "axis": null}
          },
          "layer": [
            {"transform": [{"filter": "datum.k == 'h'"}], "mark": {"type": "text", "fontWeight": "bold", "fontSize": 12.5, "baseline": "middle", "color": "#000000"}, "encoding": {"text": {"field": "site"}}},
            {"transform": [{"filter": "datum.k != 'h' && datum.site == 'BW'"}], "mark": {"type": "point", "shape": "square", "size": 400, "filled": true, "opacity": 1, "strokeWidth": 1},
             "encoding": {"fill": {"field": "id", "type": "nominal", "scale": {"domain": ["BW-S", "BW-W", "EB-S", "EB-W", "IF-S", "IF-W", "SB-S", "SB-W"], "range": ["#555555", "#d9d9d9", "#4b7d2c", "#90ee90", "#ff3300", "#ffb900", "#1a2ecc", "#1ab2ec"]}}, "stroke": {"field": "id", "type": "nominal", "scale": {"domain": ["BW-S", "BW-W", "EB-S", "EB-W", "IF-S", "IF-W", "SB-S", "SB-W"], "range": ["#555555", "#b5b5b5", "#4b7d2c", "#66bb66", "#ff3300", "#ffb900", "#1a2ecc", "#1ab2ec"]}}}},
            {"transform": [{"filter": "datum.k != 'h' && datum.site == 'EB'"}], "mark": {"type": "point", "shape": "circle", "size": 300, "filled": true, "opacity": 1, "strokeWidth": 1},
             "encoding": {"fill": {"field": "id", "type": "nominal"}, "stroke": {"field": "id", "type": "nominal"}}},
            {"transform": [{"filter": "datum.k != 'h' && datum.site == 'IF'"}], "mark": {"type": "point", "shape": "triangle-up", "size": 490, "filled": true, "opacity": 1, "strokeWidth": 1},
             "encoding": {"fill": {"field": "id", "type": "nominal"}, "stroke": {"field": "id", "type": "nominal"}}},
            {"transform": [{"filter": "datum.k != 'h' && datum.site == 'SB'"}], "mark": {"type": "point", "shape": "triangle-down", "size": 490, "filled": true, "opacity": 1, "strokeWidth": 1},
             "encoding": {"fill": {"field": "id", "type": "nominal"}, "stroke": {"field": "id", "type": "nominal"}}},
            {"transform": [{"filter": "datum.k != 'h' && (datum.site == 'BW' || datum.site == 'EB')"}], "mark": {"type": "text", "fontWeight": "bold", "fontSize": 11, "baseline": "middle"},
             "encoding": {"text": {"field": "k"}, "color": {"field": "k", "type": "nominal", "scale": {"domain": ["S", "W"], "range": ["#ffffff", "#000000"]}}}},
            {"transform": [{"filter": "datum.k != 'h' && datum.site == 'IF'"}], "mark": {"type": "text", "fontWeight": "bold", "fontSize": 11, "baseline": "middle", "dy": 3},
             "encoding": {"text": {"field": "k"}, "color": {"field": "k", "type": "nominal"}}},
            {"transform": [{"filter": "datum.k != 'h' && datum.site == 'SB'"}], "mark": {"type": "text", "fontWeight": "bold", "fontSize": 11, "baseline": "middle", "dy": -3},
             "encoding": {"text": {"field": "k"}, "color": {"field": "k", "type": "nominal"}}}
          ]
        }
      ],
      "resolve": {"scale": {"y": "independent", "fill": "independent", "stroke": "independent"}}
    },
    {
      "width": 301, "height": 301,
      "title": {"text": "(d)", "dx": -49, "offset": 0},
      "layer": [
        {
          "layer": [
            {"data": {"name": "pts"}, "transform": [{"filter": "datum.p == 'd' && isValid(datum.h)"}],
             "mark": {"type": "line", "interpolate": "linear-closed", "strokeWidth": 0, "fillOpacity": 0.6},
             "encoding": {
               "x": {"field": "x", "type": "quantitative", "scale": {"domain": [-1, 1], "nice": false, "zero": false}, "axis": {"title": "NMDS1", "titlePadding": 2}},
               "y": {"field": "y", "type": "quantitative", "scale": {"domain": [-1, 1], "nice": false, "zero": false}, "axis": {"title": "NMDS2", "titlePadding": -1}},
               "fill": {"field": "grp", "type": "nominal", "scale": {"domain": ["BW-W", "BW-S", "EB-S", "EB-W", "IF-S", "IF-W", "SB-S", "SB-W"], "range": ["#c0c0c0", "#2a2a2a", "#0a800a", "#90ee90", "#ff3300", "#ffa500", "#0000ff", "#87ceeb"]}},
               "detail": {"field": "grp"},
               "order": {"field": "h", "type": "quantitative"}
             }},
            {"data": {"name": "pts"}, "transform": [{"filter": "datum.p == 'd'"}],
             "mark": {"type": "point", "filled": true, "opacity": 1, "strokeWidth": 0.7},
             "encoding": {
               "x": {"field": "x", "type": "quantitative", "scale": {"domain": [-1, 1], "nice": false, "zero": false}, "axis": {"title": "NMDS1", "titlePadding": 2}},
               "y": {"field": "y", "type": "quantitative", "scale": {"domain": [-1, 1], "nice": false, "zero": false}, "axis": {"title": "NMDS2", "titlePadding": -1}},
               "shape": {"field": "site", "type": "nominal", "scale": {"domain": ["BW", "EB", "IF", "SB"], "range": ["square", "circle", "triangle-up", "triangle-down"]}},
               "size": {"field": "site", "type": "nominal", "scale": {"type": "ordinal", "domain": ["BW", "EB", "IF", "SB"], "range": [42, 38, 75, 75]}},
               "fill": {"field": "grp", "type": "nominal", "scale": {"domain": ["BW-W", "BW-S", "EB-S", "EB-W", "IF-S", "IF-W", "SB-S", "SB-W"], "range": ["#cfcfcf", "#333333", "#0b8a0b", "#90ee90", "#ff3d00", "#ffa500", "#0000f0", "#87ceeb"]}},
               "stroke": {"field": "grp", "type": "nominal", "scale": {"domain": ["BW-W", "BW-S", "EB-S", "EB-W", "IF-S", "IF-W", "SB-S", "SB-W"], "range": ["#808080", "#111111", "#055005", "#6b9f6b", "#7a2000", "#7a5000", "#000080", "#4f7f94"]}}
             }},
            {"data": {"values": [{"label": "Stress = 0.10"}]},
             "mark": {"type": "text", "align": "right", "baseline": "top", "dx": -8, "dy": 7, "fontSize": 18.5, "color": "#000000"},
             "encoding": {
               "x": {"datum": 1, "type": "quantitative", "axis": {"title": "NMDS1", "titlePadding": 2}},
               "y": {"datum": 1, "type": "quantitative", "axis": {"title": "NMDS2", "titlePadding": -1}},
               "text": {"field": "label"}
             }}
          ],
          "resolve": {"scale": {"fill": "independent"}}
        },
        {
          "data": {"name": "leg"},
          "encoding": {
            "x": {"datum": 1.133, "type": "quantitative", "axis": {"title": "NMDS1", "titlePadding": 2}},
            "y": {"field": "id", "type": "nominal", "scale": {"type": "point", "padding": 1.44, "domain": ["BW-h","s1","s2","BW-S","s3","s4","s5","BW-W","s6","s7","s8","s9","EB-h","s10","s11","EB-S","s12","s13","s14","EB-W","s15","s16","s17","s18","IF-h","s19","s20","IF-S","s21","s22","s23","IF-W","s24","s25","s26","s27","SB-h","s28","s29","SB-S","s30","s31","s32","SB-W","s33"]}, "axis": null}
          },
          "layer": [
            {"transform": [{"filter": "datum.k == 'h'"}], "mark": {"type": "text", "fontWeight": "bold", "fontSize": 12.5, "baseline": "middle", "color": "#000000"}, "encoding": {"text": {"field": "site"}}},
            {"transform": [{"filter": "datum.k != 'h' && datum.site == 'BW'"}], "mark": {"type": "point", "shape": "square", "size": 400, "filled": true, "opacity": 1, "strokeWidth": 1},
             "encoding": {"fill": {"field": "id", "type": "nominal", "scale": {"domain": ["BW-S", "BW-W", "EB-S", "EB-W", "IF-S", "IF-W", "SB-S", "SB-W"], "range": ["#555555", "#d9d9d9", "#4b7d2c", "#90ee90", "#ff3300", "#ffb900", "#1a2ecc", "#1ab2ec"]}}, "stroke": {"field": "id", "type": "nominal", "scale": {"domain": ["BW-S", "BW-W", "EB-S", "EB-W", "IF-S", "IF-W", "SB-S", "SB-W"], "range": ["#555555", "#b5b5b5", "#4b7d2c", "#66bb66", "#ff3300", "#ffb900", "#1a2ecc", "#1ab2ec"]}}}},
            {"transform": [{"filter": "datum.k != 'h' && datum.site == 'EB'"}], "mark": {"type": "point", "shape": "circle", "size": 300, "filled": true, "opacity": 1, "strokeWidth": 1},
             "encoding": {"fill": {"field": "id", "type": "nominal"}, "stroke": {"field": "id", "type": "nominal"}}},
            {"transform": [{"filter": "datum.k != 'h' && datum.site == 'IF'"}], "mark": {"type": "point", "shape": "triangle-up", "size": 490, "filled": true, "opacity": 1, "strokeWidth": 1},
             "encoding": {"fill": {"field": "id", "type": "nominal"}, "stroke": {"field": "id", "type": "nominal"}}},
            {"transform": [{"filter": "datum.k != 'h' && datum.site == 'SB'"}], "mark": {"type": "point", "shape": "triangle-down", "size": 490, "filled": true, "opacity": 1, "strokeWidth": 1},
             "encoding": {"fill": {"field": "id", "type": "nominal"}, "stroke": {"field": "id", "type": "nominal"}}},
            {"transform": [{"filter": "datum.k != 'h' && (datum.site == 'BW' || datum.site == 'EB')"}], "mark": {"type": "text", "fontWeight": "bold", "fontSize": 11, "baseline": "middle"},
             "encoding": {"text": {"field": "k"}, "color": {"field": "k", "type": "nominal", "scale": {"domain": ["S", "W"], "range": ["#ffffff", "#000000"]}}}},
            {"transform": [{"filter": "datum.k != 'h' && datum.site == 'IF'"}], "mark": {"type": "text", "fontWeight": "bold", "fontSize": 11, "baseline": "middle", "dy": 3},
             "encoding": {"text": {"field": "k"}, "color": {"field": "k", "type": "nominal"}}},
            {"transform": [{"filter": "datum.k != 'h' && datum.site == 'SB'"}], "mark": {"type": "text", "fontWeight": "bold", "fontSize": 11, "baseline": "middle", "dy": -3},
             "encoding": {"text": {"field": "k"}, "color": {"field": "k", "type": "nominal"}}}
          ]
        }
      ],
      "resolve": {"scale": {"y": "independent", "fill": "independent", "stroke": "independent"}}
    }
  ]
}
